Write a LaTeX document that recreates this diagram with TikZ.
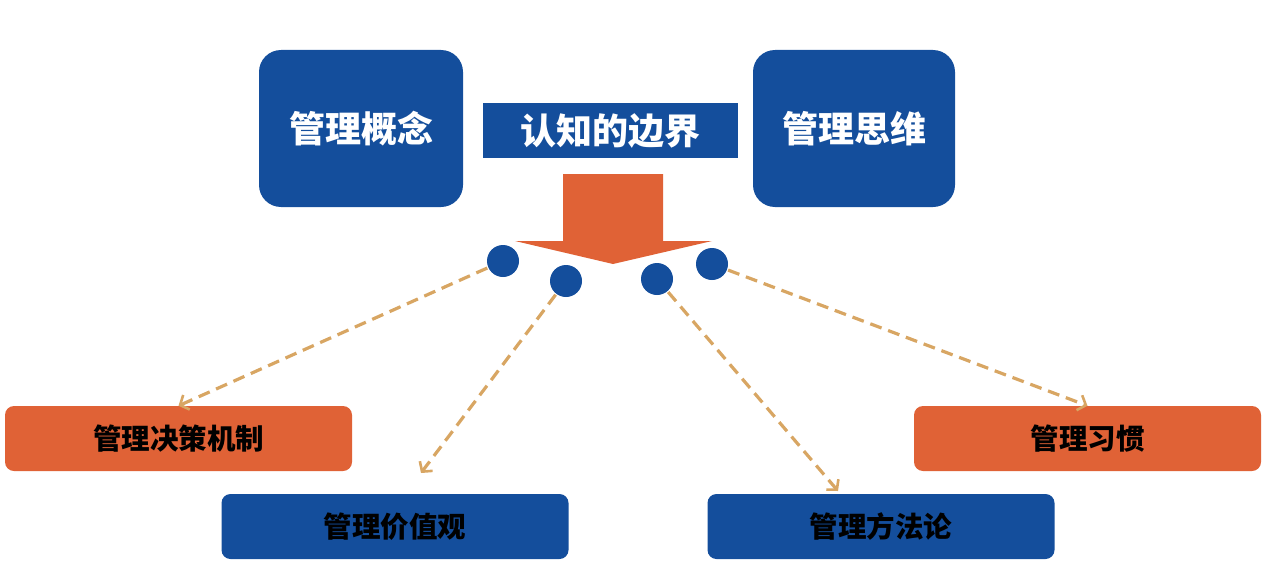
\documentclass[tikz,border=0pt]{standalone}
\usepackage{fontspec}
\newfontfamily\cjk{Noto Sans CJK SC}
\usetikzlibrary{arrows.meta}

\definecolor{mblue}{HTML}{144E9C}
\definecolor{morange}{HTML}{E06236}
\definecolor{mtan}{HTML}{D8A663}

\tikzset{
  bigbox/.style={fill=mblue, rounded corners=22pt, minimum width=204pt, minimum height=157pt,
    text=white, font=\cjk\bfseries\fontsize{36}{40}\selectfont},
  smallbox/.style={rounded corners=9pt, minimum width=347pt, minimum height=65pt,
    text=black, font=\cjk\bfseries\fontsize{28.5}{32}\selectfont},
  dot/.style={circle, fill=mblue, minimum size=32pt, inner sep=0pt},
  link/.style={draw=mtan, line width=3.2pt, dash pattern=on 12pt off 7pt,
    -{Straight Barb[length=7pt,width=16pt,line width=2.6pt]}, shorten <=1pt}
}

\begin{document}
\begin{tikzpicture}[x=1pt, y=-1pt]

    \useasboundingbox (0,0) rectangle (1268,586);

    % Define nodes
    \node[bigbox]                        (gn) at (361,128.5) {管理概念};
    \node[bigbox, minimum width=202pt]   (sw) at (854,128.5) {管理思维};
    \node[fill=mblue, minimum width=255pt, minimum height=55pt, text=white,
          font=\cjk\bfseries\fontsize{36}{40}\selectfont] (bj) at (610.5,130.5) {认知的边界};

    % big arrow
    \fill[morange] (563,174) -- (663,174) -- (663,241) -- (712,241) -- (613,264)
                   -- (515,241) -- (563,241) -- cycle;

    \node[dot] (d1) at (503,261) {};
    \node[dot] (d2) at (566,281) {};
    \node[dot] (d3) at (657,279) {};
    \node[dot] (d4) at (712,264) {};

    \node[smallbox, fill=morange] (jc) at (178.5,438.5)  {管理决策机制};
    \node[smallbox, fill=mblue]   (jz) at (395,526.5)    {管理价值观};
    \node[smallbox, fill=mblue]   (ff) at (881,526.5)    {管理方法论};
    \node[smallbox, fill=morange] (xg) at (1087.5,438.5) {管理习惯};

    \coordinate (jz-in) at (421,473);
    \coordinate (ff-in) at (838,491);

    % Connect the nodes
    \draw[link] (d1) -- (jc.north);
    \draw[link] (d2) -- (jz-in);
    \draw[link] (d3) -- (ff-in);
    \draw[link] (d4) -- (xg.north);

\end{tikzpicture}
\end{document}
